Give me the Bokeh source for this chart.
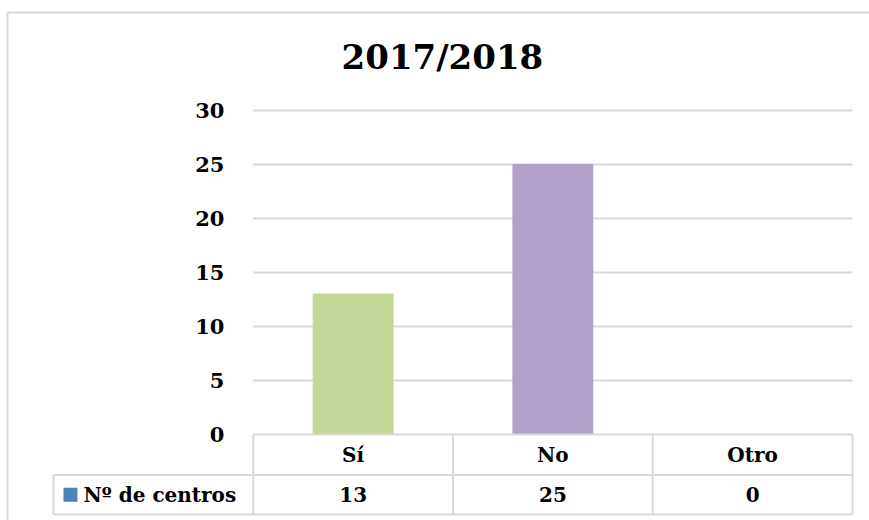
from bokeh.plotting import figure
from bokeh.models import ColumnDataSource, Range1d
from bokeh.core.properties import value
from bokeh.embed import file_html
from bokeh.resources import INLINE

# ---- data ----
title_text = "2017/2018"
categories = ["Sí", "No", "Otro"]
counts = [13, 25, 0]
series_name = "Nº de centros"
bar_colors = ["#C4D79B", "#B1A0C7", "#FAC090"]
series_color = "#4F81BD"
y_ticks = [0, 5, 10, 15, 20, 25, 30]

FONT = value("DejaVu Serif")
GRID = "#D9D9D9"

W, H = 869, 520
px_x = 199.75          # pixels per category
px_y = 10.8            # pixels per unit
x0_px = 53             # where the legend column starts
y0_px = 434            # where value 0 sits (from top)
x_start = -1 - x0_px / px_x
x_end = x_start + W / px_x
y_end = y0_px / px_y
y_start = y_end - H / px_y

p = figure(width=W, height=H, output_backend="svg", toolbar_location=None,
           x_range=Range1d(x_start, x_end), y_range=Range1d(y_start, y_end),
           min_border=0, min_border_left=0, min_border_right=0,
           min_border_top=0, min_border_bottom=0)
p.axis.visible = False
p.grid.visible = False
p.outline_line_color = None
p.background_fill_color = "white"
p.border_fill_color = "white"

n = len(categories)
centers = [i + 0.5 for i in range(n)]
row_div = -3.75
row_bot = -7.41

# chart border (left and top edges visible)
bx = x_start + 7 / px_x
by = y_end - 12 / px_y
p.segment(x0=[bx, bx], y0=[y_start, by], x1=[bx, x_end], y1=[by, by],
          line_color=GRID, line_width=2)

# gridlines
g = [t for t in y_ticks if t != 0]
p.segment(x0=[0] * len(g), y0=g, x1=[n] * len(g), y1=g, line_color=GRID, line_width=2)

# bars
src = ColumnDataSource(dict(x=centers, top=counts, color=bar_colors, cat=categories))
p.vbar(x="x", top="top", bottom=0, width=0.4, color="color", source=src)

# y tick labels
p.text(x=[-0.144] * len(y_ticks), y=y_ticks, text=[str(t) for t in y_ticks],
       text_font=FONT, text_font_style="bold", text_font_size="21px",
       text_align="right", text_baseline="middle", text_color="black")

# title
p.text(x=[0.947], y=[(y0_px - 56) / px_y], text=[title_text], text_font=FONT,
       text_font_style="bold", text_font_size="34px", text_align="center",
       text_baseline="middle", text_color="black")

# data table lines
p.segment(x0=[0, -1, -1], y0=[0, row_div, row_bot], x1=[n, n, n], y1=[0, row_div, row_bot],
          line_color=GRID, line_width=2)
vx = list(range(0, n + 1))
p.segment(x0=vx, y0=[0] * len(vx), x1=vx, y1=[row_bot] * len(vx), line_color=GRID, line_width=2)
p.segment(x0=[-1], y0=[row_div], x1=[-1], y1=[row_bot], line_color=GRID, line_width=2)

# table texts
p.text(x="x", y=(row_div / 2), text="cat", source=src, text_font=FONT, text_font_style="bold",
       text_font_size="20px", text_align="center", text_baseline="middle", text_color="black")
p.text(x=centers, y=[(row_div + row_bot) / 2] * n, text=[str(c) for c in counts],
       text_font=FONT, text_font_style="bold", text_font_size="20px",
       text_align="center", text_baseline="middle", text_color="black")

# legend key + series name
p.scatter(x=[-0.915], y=[(row_div + row_bot) / 2], marker="square", size=14,
          fill_color=series_color, line_color=None)
p.text(x=[-0.85], y=[(row_div + row_bot) / 2], text=[series_name], text_font=FONT,
       text_font_style="bold", text_font_size="20px", text_align="left",
       text_baseline="middle", text_color="black")

open("out.html", "w").write(file_html(p, INLINE))
